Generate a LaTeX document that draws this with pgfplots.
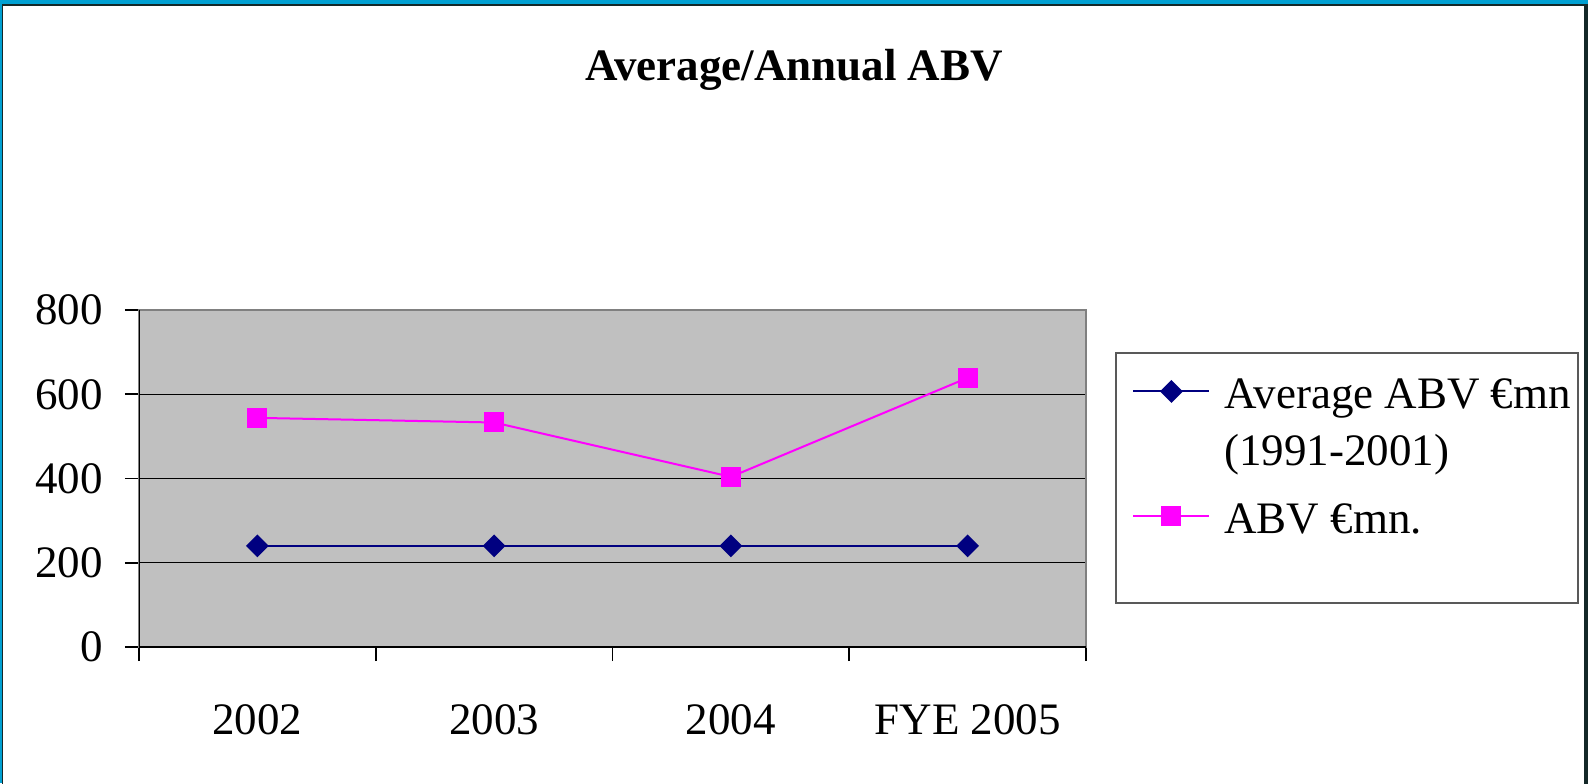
\documentclass[border=0pt]{standalone}
\usepackage{pgfplots}
\pgfplotsset{compat=1.18}
\usepackage{fontspec}
\setmainfont{Liberation Serif}
\definecolor{frameblue}{RGB}{0,160,210}
\definecolor{framedark}{RGB}{20,40,40}
\definecolor{plotgray}{RGB}{192,192,192}
\definecolor{navy}{RGB}{0,0,128}
\definecolor{mag}{RGB}{255,0,255}
\begin{document}
\begin{tikzpicture}[font=\fontsize{22.5}{28.5}\selectfont]
\path[use as bounding box] (0,0) rectangle (794pt,-391.5pt);
\fill[frameblue] (0,0) rectangle (794pt,-391.5pt);
\fill[white] (1.65pt,-2.85pt) rectangle (792pt,-392pt);
\draw[framedark,line width=0.8pt] (1.3pt,-392pt) -- (1.3pt,-2.45pt) -- (793pt,-2.45pt);
\fill[framedark] (792pt,-2pt) rectangle (794pt,-392pt);
\node[anchor=base,font=\fontsize{22.5}{28.5}\selectfont\bfseries] at (397pt,-40pt) {Average/Annual ABV};
\draw[black!65,line width=1pt] (558pt,-176.5pt) rectangle (789pt,-301.5pt);
\begin{axis}[
  at={(69.5pt,-323.5pt)}, anchor=south west,
  scale only axis, width=473.5pt, height=168.5pt,
  xmin=-0.5, xmax=3.5, ymin=0, ymax=800,
  xtick={0,1,2,3},
  xticklabels={2002,2003,2004,FYE 2005},
  minor xtick={-0.5,0.5,1.5,2.5,3.5},
  ytick={0,200,400,600,800},
  xtick pos=left, ytick pos=left,
  tick align=outside,
  major tick length=7pt, minor tick length=7pt,
  x tick style={draw=none},
  minor x tick style={draw=black,line width=0.8pt},
  y tick style={black,line width=0.8pt},
  ymajorgrids, major grid style={black,line width=0.7pt},
  axis background/.style={fill=plotgray},
  axis line style={draw=gray,line width=1.2pt},
  /pgf/number format/assume math mode=true,
  yticklabel style={anchor=east,inner sep=0pt,xshift=-11pt},
  xticklabel style={anchor=base,inner sep=0pt,yshift=-36.5pt},
  tick label style={font=\fontsize{22.5}{28.5}\selectfont},
  legend style={at={(1.0486,0.8042)},anchor=north west,draw=none,fill=none,
    inner sep=0pt,column sep=7pt,row sep=7.5pt,
    nodes={inner sep=0pt,text height=16pt,text depth=5pt},font=\fontsize{22.5}{28.5}\selectfont},
  legend cell align=left,
  legend image code/.code={
    \draw[#1,mark=none] (0pt,3pt) -- (38pt,3pt);
    \draw[#1] plot coordinates {(19pt,3pt)};
  },
]
\draw[black,line width=1pt] (rel axis cs:0,1) -- (rel axis cs:0,0) -- (rel axis cs:1,0);
\addplot[navy,line width=1pt,mark=square*,mark size=3.54pt,mark options={solid,fill=navy,rotate=45}]
  coordinates {(0,240) (1,240) (2,240) (3,240)};
\addlegendentry{Average ABV €mn}
\addlegendimage{empty legend}
\addlegendentry[text depth=10.5pt]{(1991-2001)}
\addplot[mag,line width=1pt,mark=square*,mark size=4.5pt,mark options={solid,fill=mag}]
  coordinates {(0,544) (1,533) (2,404) (3,639)};
\addlegendentry{ABV €mn.}
\end{axis}
\end{tikzpicture}
\end{document}
